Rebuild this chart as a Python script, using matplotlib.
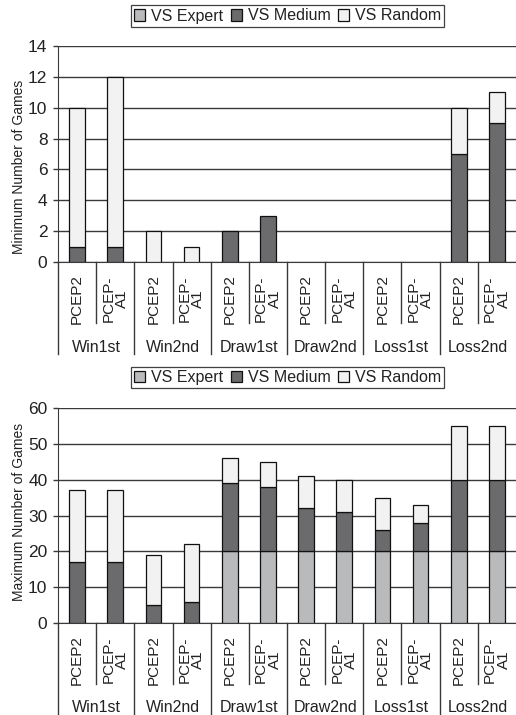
import matplotlib.pyplot as plt
import numpy as np

plt.rcParams['font.family'] = ['Liberation Sans', 'DejaVu Sans']

groups = ['Win1st', 'Win2nd', 'Draw1st', 'Draw2nd', 'Loss1st', 'Loss2nd']
players = ['PCEP2', 'PCEP-\nA1']
series = ['VS Expert', 'VS Medium', 'VS Random']
colors = ['#b9babc', '#6b6b6d', '#f2f2f2']

# minimum number of games, one value per (group, player) bar
min_expert = [0, 0, 0, 0, 0, 0, 0, 0, 0, 0, 0, 0]
min_medium = [1, 1, 0, 0, 2, 3, 0, 0, 0, 0, 7, 9]
min_random = [9, 11, 2, 1, 0, 0, 0, 0, 0, 0, 3, 2]

# maximum number of games
max_expert = [0, 0, 0, 0, 20, 20, 20, 20, 20, 20, 20, 20]
max_medium = [17, 17, 5, 6, 19, 18, 12, 11, 6, 8, 20, 20]
max_random = [20, 20, 14, 16, 7, 7, 9, 9, 9, 5, 15, 15]

LINE = '#3a3a3a'
TEXT = '#222222'

fig = plt.figure(figsize=(5.16, 7.15), dpi=100)
ax1 = fig.add_axes([58 / 516, 1 - 262 / 715, 458 / 516, 216 / 715])
ax2 = fig.add_axes([58 / 516, 1 - 623 / 715, 458 / 516, 215 / 715])


def draw(ax, stacks, ymax, ystep, ylabel, label_y, legend_y):
    x = np.arange(len(stacks[0]))
    bottom = np.zeros(len(x))
    handles = []
    for vals, c, name in zip(stacks, colors, series):
        vals = np.array(vals, dtype=float)
        keep = vals > 0
        ax.bar(x[keep], vals[keep], 0.41, bottom=bottom[keep], color=c,
               edgecolor='#111111', linewidth=0.9, zorder=3)
        handles.append(plt.Rectangle((0, 0), 1, 1, facecolor=c,
                                     edgecolor='#111111', linewidth=0.9,
                                     label=name))
        bottom += vals

    ax.set_xlim(-0.5, len(x) - 0.5)
    ax.set_ylim(0, ymax)
    ax.set_yticks(np.arange(0, ymax + 1, ystep))
    ax.yaxis.grid(True, color=LINE, linewidth=1.0)
    ax.set_axisbelow(True)
    ax.set_xticks([])
    for s in ['top', 'right']:
        ax.spines[s].set_visible(False)
    ax.spines['left'].set_color(LINE)
    ax.spines['bottom'].set_color(LINE)
    ax.tick_params(axis='y', length=3.6, width=1, color=LINE, pad=4,
                   labelsize=12.5, labelcolor=TEXT)
    ax.set_ylabel(ylabel, fontsize=10, color=TEXT)
    ax.yaxis.set_label_coords(-0.07, label_y)

    # two-level category axis below the plot
    h = ax.get_window_extent().height
    tr = ax.get_xaxis_transform()
    for i in range(len(x)):
        xe = i - 0.5
        depth = 92 if i % 2 == 0 else 61
        ax.plot([xe, xe], [0, -depth / h], transform=tr, color=LINE,
                linewidth=1, clip_on=False)
    for i, xi in enumerate(x):
        ax.annotate(players[i % 2], (xi, 0), xycoords=tr, xytext=(0, -37),
                    textcoords='offset pixels', rotation=90, ha='center',
                    va='center', multialignment='center', fontsize=11,
                    color=TEXT, linespacing=0.95)
    for g, name in enumerate(groups):
        ax.annotate(name, (2 * g + 0.5, 0), xycoords=tr, xytext=(0, -85),
                    textcoords='offset pixels', ha='center', va='center',
                    fontsize=11.5, color=TEXT)

    leg = fig.legend(handles=handles, loc='center', ncol=3,
                     bbox_to_anchor=(287.5 / 516, legend_y), fontsize=11.5,
                     frameon=True, fancybox=False, handlelength=0.7,
                     handleheight=0.7, handletextpad=0.35, columnspacing=0.5,
                     borderpad=0.2, borderaxespad=0)
    leg.get_frame().set_edgecolor('#111111')
    leg.get_frame().set_linewidth(0.9)
    for t in leg.get_texts():
        t.set_color(TEXT)


draw(ax1, [min_expert, min_medium, min_random], 14, 2,
     'Minimum Number of Games', 0.44, 1 - 16 / 715)
draw(ax2, [max_expert, max_medium, max_random], 60, 10,
     'Maximum Number of Games', 0.515, 1 - 377.5 / 715)

fig.savefig('out.png', dpi=100)
